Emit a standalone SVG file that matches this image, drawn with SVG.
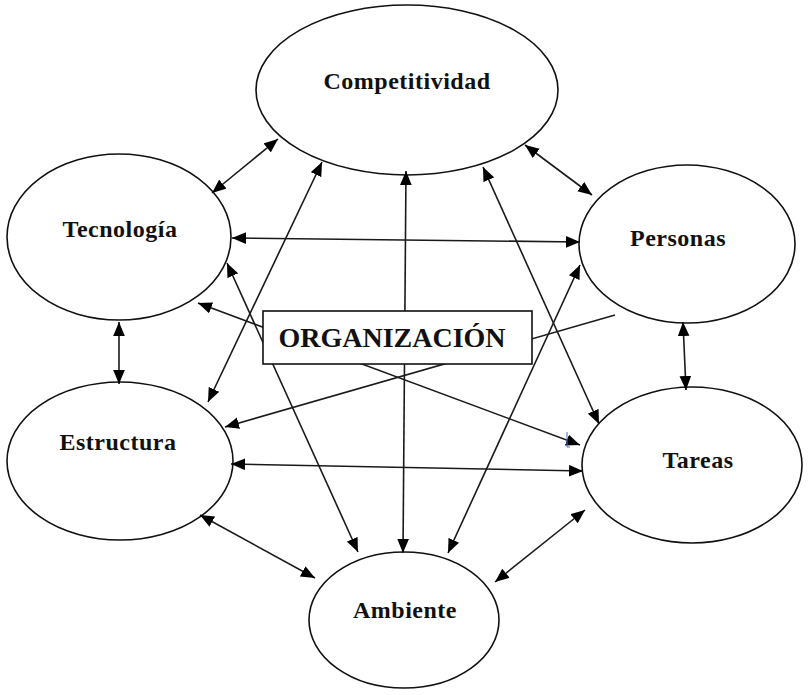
<svg xmlns="http://www.w3.org/2000/svg" width="809" height="695" viewBox="0 0 809 695">
<style>
.node ellipse{fill:#fff;stroke:#111;stroke-width:1.6}
.lbl{font-family:"Liberation Serif","Times New Roman",serif;font-weight:bold;font-size:24px;letter-spacing:0.5px;fill:#111;text-anchor:middle}
.conn line{stroke:#1a1a1a;stroke-width:1.6}
.both{marker-start:url(#ah);marker-end:url(#ah)}
.one{marker-end:url(#ah)}
</style>
<defs>
<marker id="ah" markerUnits="userSpaceOnUse" markerWidth="14" markerHeight="12" refX="12" refY="5" orient="auto-start-reverse" viewBox="0 0 12 10">
<path d="M0,0 L12,5 L0,10 Z" fill="#000"/>
</marker>
</defs>
<rect width="809" height="695" fill="#fff"/>
<g id="competitividad" class="node"><ellipse cx="407" cy="90" rx="151" ry="85"/><text class="lbl" x="407" y="89">Competitividad</text></g>
<g id="tecnologia" class="node"><ellipse cx="119" cy="237" rx="112" ry="83"/><text class="lbl" x="120" y="237">Tecnología</text></g>
<g id="personas" class="node"><ellipse cx="687" cy="244" rx="108" ry="79"/><text class="lbl" x="678" y="246">Personas</text></g>
<g id="estructura" class="node"><ellipse cx="120" cy="461" rx="113" ry="79"/><text class="lbl" x="118" y="450">Estructura</text></g>
<g id="tareas" class="node"><ellipse cx="692" cy="465" rx="110" ry="78"/><text class="lbl" x="698" y="468">Tareas</text></g>
<g id="ambiente" class="node"><ellipse cx="404" cy="620" rx="95" ry="68"/><text class="lbl" x="405" y="618">Ambiente</text></g>
<g id="connectors" class="conn">
<line class="both" x1="212" y1="193" x2="278" y2="139"/>
<line class="both" x1="232" y1="238" x2="580" y2="242"/>
<line class="both" x1="406" y1="171" x2="403" y2="553"/>
<line class="both" x1="525" y1="145" x2="592" y2="195"/>
<line class="both" x1="119" y1="322" x2="119" y2="384"/>
<line class="both" x1="683" y1="322" x2="686" y2="390"/>
<line class="both" x1="231" y1="464" x2="583" y2="471"/>
<line class="both" x1="200" y1="515" x2="315" y2="578"/>
<line class="both" x1="585" y1="510" x2="495" y2="582"/>
<line class="both" x1="322" y1="162" x2="208" y2="402"/>
<line class="both" x1="483" y1="167" x2="599" y2="424"/>
<line class="both" x1="227" y1="263" x2="358" y2="552"/>
<line class="both" x1="580" y1="265" x2="448" y2="553"/>
<line class="both" x1="198" y1="303" x2="580" y2="445"/>
<line class="one" x1="615" y1="315" x2="225" y2="427"/>
</g>
<path d="M567,432 L567,447 L570,447" fill="none" stroke="#4a6fd0" stroke-width="1"/>
<g id="organizacion">
<rect x="263" y="311" width="269" height="53" fill="#fff" stroke="#111" stroke-width="1.6"/>
<text x="392" y="347" font-family="'Liberation Serif','Times New Roman',serif" font-weight="bold" font-size="28" fill="#111" text-anchor="middle">ORGANIZACIÓN</text>
</g>
</svg>
